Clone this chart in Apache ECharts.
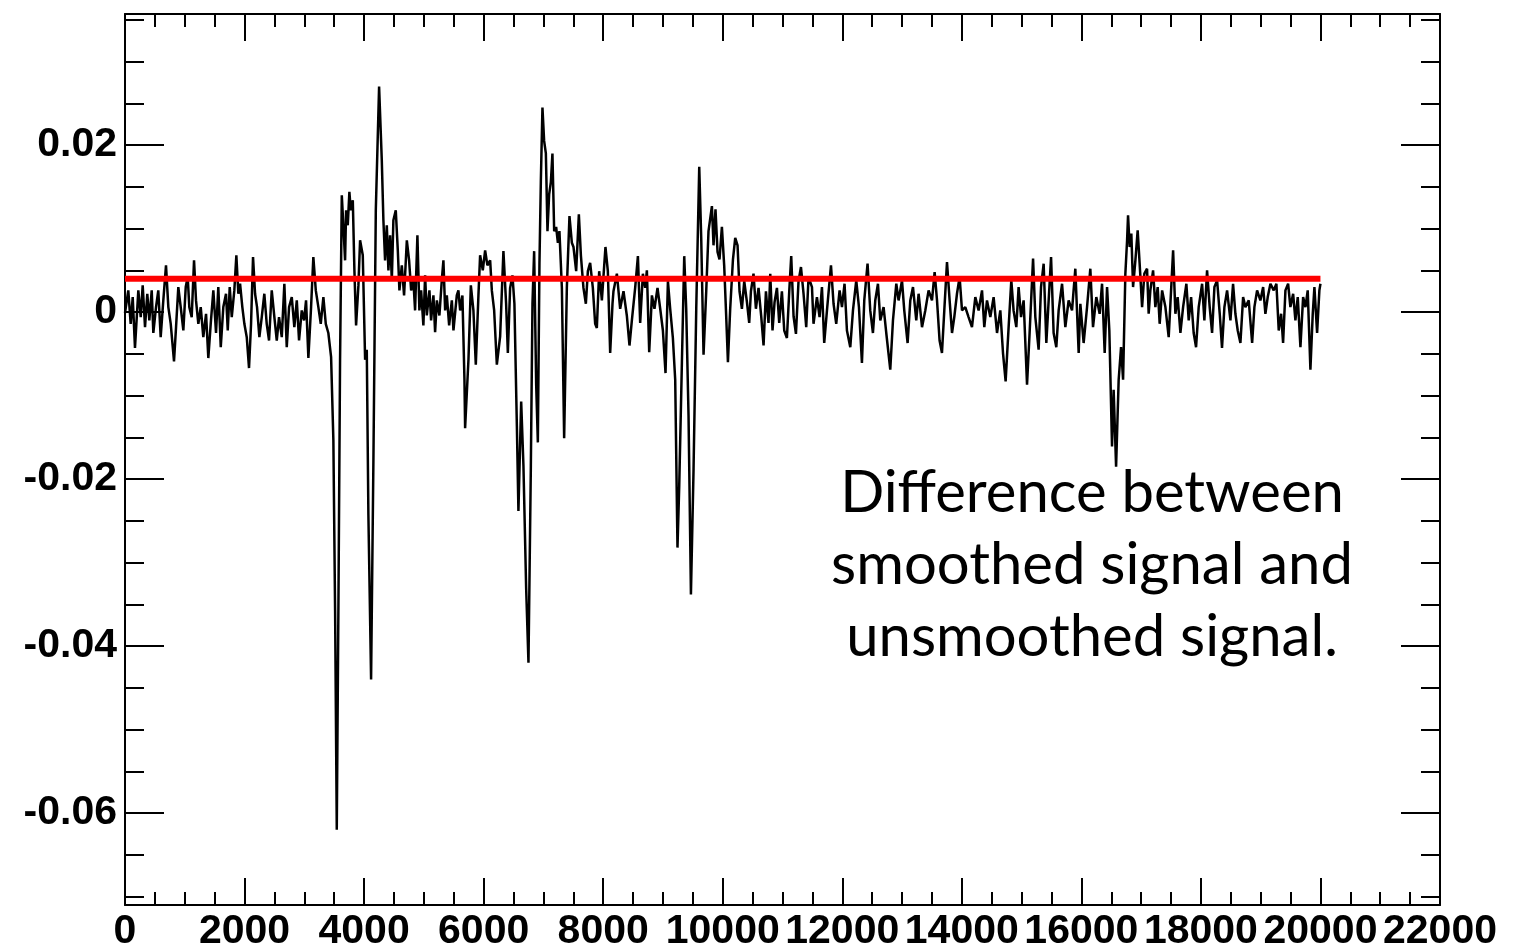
<!DOCTYPE html>
<html><head><meta charset="utf-8">
<script src="https://cdn.jsdelivr.net/npm/echarts@6/dist/echarts.min.js"></script>
<style>html,body{margin:0;padding:0;background:#fff}#c{width:1524px;height:949px}</style>
</head><body><div id="c"></div>
<script>
// ---- axis ranges / ticks ----
const xMin = 0, xMax = 22000, xStep = 2000;
const yMin = -0.071, yMax = 0.0357;
const yMajorTicks = [-0.06, -0.04, -0.02, 0, 0.02];
const yMinorTicks = [-0.07, -0.065, -0.055, -0.05, -0.045, -0.035, -0.03, -0.025, -0.015, -0.01, -0.005, 0.005, 0.01, 0.015, 0.025, 0.03, 0.035];

// ---- red reference level ----
const thresholdLevel = 0.004;
const thresholdRange = [0, 20000];

// ---- difference signal (x, value) ----
const signalA = [[0,-0.0001],[55,0.0026],[95,-0.0014],[129,0.0018],[167,-0.0043],[223,0.0026],[263,-0.0006],[296,0.0032],[335,-0.0018],[373,0.0022],[407,-0.0010],[447,0.0026],[474,-0.0025],[519,0.0006],[557,0.0026],[597,-0.0030],[641,0.0014],[686,0.0056],[725,0.0006],[765,-0.0014],[820,-0.0059],[854,-0.0018],[892,0.0030],[932,0.0006],[976,-0.0022],[1016,0.0030],[1049,0.0042],[1076,0.0006],[1116,-0.0006],[1155,0.0062],[1188,0.0014],[1227,-0.0014],[1267,0.0006],[1310,-0.0030],[1356,-0.0002],[1394,-0.0055],[1434,-0.0014],[1478,0.0026],[1523,-0.0025],[1561,0.0030],[1602,-0.0042],[1645,0.0006],[1690,0.0022],
[1719,-0.0022],[1752,0.0030],[1786,-0.0006],[1829,0.0026],[1863,0.0068],[1896,0.0022],[1925,0.0034],[1963,0.0006],[1997,-0.0014],[2037,-0.0030],[2075,-0.0067],[2109,-0.0014],[2142,0.0066],[2176,0.0022],[2209,0.0006],[2248,-0.0030],[2288,-0.0006],[2331,0.0022],[2371,-0.0014],[2410,-0.0034],[2455,0.0026],[2499,-0.0006],[2539,-0.0034],[2577,-0.0006],[2623,-0.0030],[2666,0.0034],[2706,-0.0042],[2745,0.0006],[2790,0.0018],[2833,-0.0018],[2874,0.0014],[2912,-0.0034],[2957,0.0002],[2996,-0.0010],[3029,0.0014],[3068,-0.0055],[3113,0.0006],[3151,0.0066],[3192,0.0026],[3235,0.0006],[3275,-0.0014],[3319,0.0018],[3359,-0.0014],[3402,-0.0025],[3448,-0.0054]];

const signalB = [[3486,-0.0153],[3515,-0.0357],[3543,-0.0620],[3570,-0.0357],[3598,-0.0057],[3627,0.0140],[3653,0.0104],[3682,0.0062],[3699,0.0122],[3727,0.0104],[3754,0.0144],[3777,0.0122],[3811,0.0134],[3838,0.0050],[3866,-0.0016],[3905,0.0032],[3933,0.0086],[3978,0.0068],[4017,-0.0057],[4045,-0.0045],[4072,-0.0243],[4117,-0.0440],[4156,-0.0177],[4196,0.0122],[4251,0.0270],[4296,0.0182],[4323,0.0110],[4351,0.0062],[4380,0.0104],[4407,0.0050],[4435,0.0092],[4464,0.0038],[4490,0.0110],[4530,0.0122],[4564,0.0074],[4591,0.0026],[4631,0.0056],[4669,0.0020],[4715,0.0086],[4753,0.0062],[4787,0.0026],[4825,0.0038],[4853,0.0002],[4892,0.0092],[4925,0.0002],[4954,0.0026],[4992,-0.0016],[5021,0.0044],[5049,-0.0004],[5093,0.0026],[5121,-0.0010],[5160,0.0020],[5188,-0.0024],[5217,0.0014],[5260,-0.0004],[5300,0.0038],[5327,0.0062],[5356,0.0002],[5384,0.0020],[5423,-0.0016],[5468,0.0014],[5495,-0.0022],[5551,0.0020],[5578,0.0026],[5607,0.0002],[5645,0.0020],[5679,-0.0081],[5690,-0.0139],[5746,-0.0057],[5786,0.0032],[5829,0.0002],[5869,-0.0063],[5913,0.0020],[5941,0.0068],[5986,0.0050],[6025,0.0074],[6063,0.0056],[6109,0.0062],[6137,0.0026],[6176,0.0002],[6221,-0.0063]];

const signalC = [[6276,-0.0029],[6331,0.0073],[6376,0.0010],[6405,-0.0049],[6443,0.0029],[6482,0.0044],[6515,0.0010],[6556,-0.0136],[6582,-0.0238],[6628,-0.0107],[6666,-0.0184],[6711,-0.0330],[6750,-0.0420],[6790,-0.0184],[6817,0.0010],[6845,0.0073],[6879,-0.0087],[6907,-0.0156],[6934,0.0059],[6957,0.0156],[6984,0.0245],[7012,0.0205],[7041,0.0190],[7068,0.0097],[7096,0.0141],[7125,0.0156],[7151,0.0190],[7180,0.0097],[7213,0.0102],[7242,0.0083],[7268,0.0097],[7309,0.0029],[7347,-0.0151],[7392,0.0029],[7436,0.0115],[7476,0.0083],[7503,0.0078],[7548,0.0049],[7593,0.0117],[7627,0.0068],[7670,0.0029],[7710,0.0010],[7744,0.0049],[7782,0.0059],[7827,0.0029],[7866,-0.0014],[7894,-0.0019],[7933,0.0049],[7978,0.0014],[8038,0.0078],[8078,0.0049],[8117,-0.0049],[8156,0.0010],[8172,0.0025],[8229,0.0046],[8284,0.0004],[8340,0.0025],[8397,-0.0005],[8440,-0.0040],[8480,-0.0010],[8535,0.0029],[8581,0.0067],[8619,-0.0013],[8664,0.0046],[8703,0.0029],[8731,0.0050],[8770,-0.0048],[8815,0.0020],[8858,0.0004],[8909,0.0029],[8954,0.0004],[8999,-0.0022],[9043,-0.0073],[9083,0.0037],[9121,0.0004],[9166,-0.0031],[9205,-0.0081],[9243,-0.0282],[9272,-0.0209],[9317,-0.0060],[9356,0.0067],[9389,0.0004],[9428,-0.0124],[9468,-0.0338],[9512,-0.0188],[9557,0.0004],[9607,0.0174],[9640,0.0089],[9679,-0.0051],[9724,0.0025],[9762,0.0097],[9819,0.0127],[9846,0.0080],[9879,0.0123],[9913,0.0072],[9946,0.0063],[9986,0.0102],[10025,0.0055],[10058,-0.0005],[10087,-0.0060],[10125,0.0004],[10171,0.0063],[10209,0.0089],[10248,0.0080],[10281,0.0025],[10321,0.0004],[10360,0.0037],[10405,0.0012],[10443,-0.0013],[10472,0.0025],[10515,0.0046],[10555,0.0004],[10599,0.0029],[10644,-0.0005],[10683,-0.0040],[10723,0.0025],[10766,-0.0013],[10795,0.0046],[10833,-0.0022],[10867,0.0012],[10907,0.0029],[10945,-0.0013],[10990,0.0025],[11029,-0.0022],[11074,-0.0031],[11113,0.0025],[11146,0.0067],[11185,-0.0005],[11225,-0.0026],[11268,0.0037]];

const signalD = [[11309,0.0054],[11352,0.0022],[11397,-0.0018],[11436,0.0042],[11493,0.0030],[11519,-0.0014],[11576,0.0018],[11620,-0.0006],[11660,0.0030],[11698,-0.0037],[11744,0.0002],[11811,0.0056],[11854,0.0010],[11899,-0.0014],[11955,0.0026],[11995,0.0006],[12038,0.0034],[12078,-0.0022],[12134,-0.0042],[12179,0.0002],[12234,0.0038],[12279,0.0006],[12329,-0.0061],[12368,0.0014],[12423,0.0058],[12468,0.0002],[12513,-0.0025],[12552,0.0014],[12597,0.0034],[12636,-0.0010],[12691,0.0006],[12736,-0.0025],[12803,-0.0069],[12848,-0.0010],[12904,0.0034],[12942,0.0014],[12999,0.0038],[13037,0.0002],[13093,-0.0037],[13138,0.0014],[13183,0.0030],[13238,-0.0010],[13277,0.0022],[13334,-0.0018],[13389,0.0002],[13444,0.0026],[13501,0.0014],[13545,0.0048],[13585,0.0014],[13628,-0.0034],[13668,-0.0049],[13707,0.0002],[13752,0.0060],[13796,0.0014],[13836,-0.0025],[13874,-0.0006],[13919,0.0022],[13963,0.0042],[14003,0.0002],[14058,0.0006],[14113,-0.0006],[14170,-0.0018],[14226,0.0018],[14281,0.0002],[14338,0.0026],[14376,-0.0018],[14421,0.0014],[14477,-0.0006],[14532,0.0018],[14589,-0.0025],[14644,0.0002],[14689,-0.0049],[14733,-0.0083],[14783,-0.0018],[14828,0.0038],[14866,0.0002],[14912,-0.0018],[14950,0.0030],[14991,-0.0006],[15034,0.0014],[15091,-0.0087],[15134,-0.0025],[15192,0.0064],[15230,-0.0006],[15285,-0.0045],[15325,0.0030],[15369,0.0058],[15414,-0.0037],[15453,0.0014],[15493,0.0066],[15536,-0.0025],[15581,-0.0042],[15620,0.0002],[15677,0.0034],[15732,-0.0018],[15787,0.0014],[15844,0.0002],[15899,0.0052],[15955,-0.0049]];

const signalE = [[15983,0.0010],[16038,-0.0037],[16095,0.0006],[16150,0.0052],[16195,-0.0018],[16250,0.0018],[16306,-0.0002],[16346,0.0034],[16390,-0.0049],[16430,0.0030],[16468,-0.0022],[16513,-0.0161],[16540,-0.0093],[16581,-0.0185],[16624,-0.0081],[16664,-0.0042],[16698,-0.0081],[16736,0.0046],[16765,0.0086],[16781,0.0116],[16808,0.0078],[16836,0.0094],[16865,0.0030],[16904,0.0062],[16942,0.0098],[16975,0.0058],[17016,0.0006],[17054,0.0046],[17099,0.0052],[17126,-0.0002],[17154,0.0026],[17200,0.0050],[17238,0.0006],[17277,0.0030],[17310,-0.0014],[17351,0.0026],[17406,0.0006],[17461,-0.0030],[17501,0.0026],[17535,0.0074],[17573,-0.0002],[17611,0.0018],[17657,-0.0025],[17702,0.0006],[17757,0.0034],[17796,-0.0010],[17836,0.0018],[17879,-0.0025],[17919,-0.0042],[17963,0.0006],[18020,0.0034],[18058,-0.0010],[18103,0.0050],[18147,0.0006],[18187,-0.0025],[18226,0.0030],[18271,0.0038],[18315,-0.0002],[18353,-0.0043],[18393,0.0006],[18438,0.0026],[18494,-0.0010],[18538,0.0034],[18577,-0.0002],[18616,-0.0022],[18661,-0.0037],[18706,0.0018],[18744,0.0006],[18800,0.0014],[18857,-0.0037],[18895,0.0006],[18940,0.0026],[18995,0.0014],[19041,0.0030],[19079,-0.0002],[19118,0.0018],[19163,0.0034],[19218,0.0026],[19263,0.0034],[19302,-0.0022],[19342,-0.0002],[19375,-0.0037],[19414,0.0026],[19459,0.0034],[19497,0.0006],[19543,0.0022],[19581,-0.0010],[19620,0.0018],[19665,-0.0042],[19710,0.0018],[19749,0.0006],[19787,0.0026],[19832,-0.0069],[19871,-0.0002],[19899,0.0030],[19944,-0.0025],[19982,0.0026],[20000,0.0034]];

const noteText = 'Difference between\nsmoothed signal and\nunsmoothed signal.';

// ---- build ----
const signal = [].concat(signalA, signalB, signalC, signalD, signalE);
const threshold = thresholdRange.map(x => [x, thresholdLevel]);

const black = {color: '#000', width: 2};
const labelFont = {fontFamily: '"Liberation Sans", Arial, Helvetica, sans-serif', fontWeight: 'bold', fontSize: 41, color: '#000'};

function xAxisDef(pos, showLabel) {
  return {
    type: 'value', position: pos, min: xMin, max: xMax, interval: xStep,
    axisLine: {show: true, onZero: false, lineStyle: black},
    axisTick: {show: true, inside: true, length: 27, lineStyle: black},
    minorTick: {show: true, splitNumber: 4, length: 13, lineStyle: black},
    splitLine: {show: false}, minorSplitLine: {show: false},
    axisLabel: showLabel ? Object.assign({margin: 6, showMinLabel: true, showMaxLabel: true, hideOverlap: false,
      formatter: v => String(v)}, labelFont) : {show: false}
  };
}
function yAxisDef(pos, ticks, len, showLine, showLabel) {
  return {
    type: 'value', position: pos, min: yMin, max: yMax,
    axisLine: {show: showLine, onZero: false, lineStyle: black},
    axisTick: {show: true, inside: true, length: len, lineStyle: black, customValues: ticks},
    splitLine: {show: false},
    axisLabel: showLabel ? Object.assign({margin: 8, customValues: ticks,
      formatter: v => (Math.abs(v) < 1e-12 ? '0' : String(v))}, labelFont) : {show: false}
  };
}

const chart = echarts.init(document.getElementById('c'), null, {renderer: 'canvas'});
chart.setOption({
  animation: false,
  backgroundColor: '#fff',
  grid: {left: 125, right: 84, top: 14, bottom: 44, containLabel: false, outerBoundsMode: 'none'},
  xAxis: [xAxisDef('bottom', true), xAxisDef('top', false)],
  yAxis: [
    yAxisDef('left', yMajorTicks, 39, true, true),
    yAxisDef('left', yMinorTicks, 19, false, false),
    yAxisDef('right', yMajorTicks, 39, true, false),
    yAxisDef('right', yMinorTicks, 19, false, false)
  ],
  series: [
    {type: 'line', data: signal, xAxisIndex: 0, yAxisIndex: 0, symbol: 'none', showSymbol: false,
     lineStyle: {color: '#000', width: 2.5}, itemStyle: {color: '#000'}, silent: true, z: 2},
    {type: 'line', data: threshold, xAxisIndex: 0, yAxisIndex: 0, symbol: 'none', showSymbol: false,
     lineStyle: {color: '#ff0000', width: 6}, itemStyle: {color: '#ff0000'}, silent: true, z: 3}
  ],
  graphic: [{
    type: 'text', x: 1092, y: 565, z: 10,
    style: {text: noteText, font: '58px Lato', fontSize: 58, fontFamily: 'Lato', fill: '#000',
            textAlign: 'center', textVerticalAlign: 'middle', align: 'center', verticalAlign: 'middle', lineHeight: 72}
  }]
});
</script>
</body></html>
